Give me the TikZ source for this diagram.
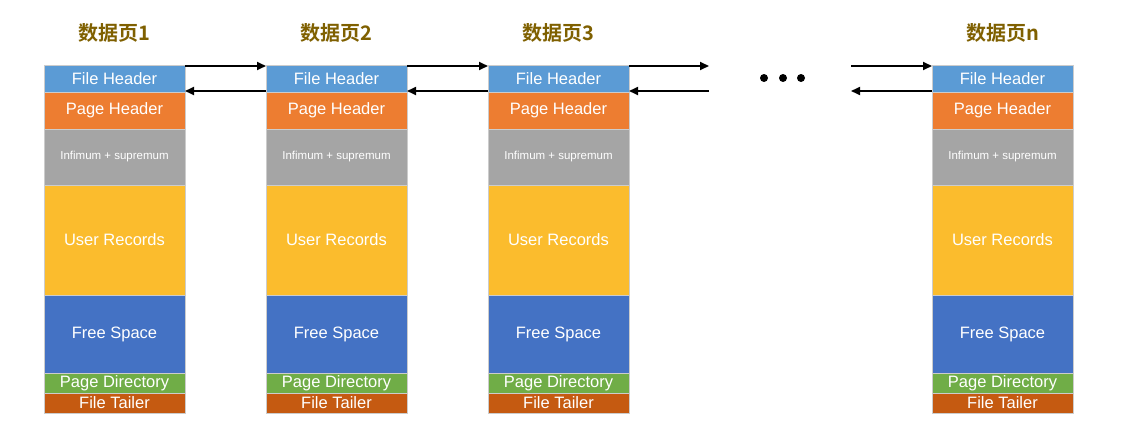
\documentclass[tikz,border=0pt]{standalone}
\usepackage{fontspec}
\setmainfont{Liberation Sans}
\newfontfamily\cjk{Noto Sans CJK SC}[BoldFont={Noto Sans CJK SC Bold}]
\usetikzlibrary{arrows.meta}

\definecolor{fhblue}{RGB}{91,155,213}
\definecolor{phorange}{RGB}{237,125,49}
\definecolor{isgrey}{RGB}{165,165,165}
\definecolor{uryellow}{RGB}{251,188,45}
\definecolor{fsblue}{RGB}{68,114,196}
\definecolor{pdgreen}{RGB}{112,173,71}
\definecolor{ftbrown}{RGB}{197,90,17}
\definecolor{titlegold}{RGB}{127,96,0}

\begin{document}
\begin{tikzpicture}[
  x=1pt, y=-1pt,
  cell/.style={draw=black!20, line width=0.4pt, text=white, anchor=north west,
               minimum width=141pt, inner sep=0pt, outer sep=0pt},
  title/.style={font=\cjk\bfseries\fontsize{20}{20}\selectfont, text=titlegold},
  link/.style={line width=1.7pt, -{Triangle[length=9pt,width=8pt]}}]

\useasboundingbox (0,0) rectangle (1124,447);

% ================= the pages ==============================================
\foreach \col/\x in {1/44, 2/266, 3/488, n/932} {
  \node[title] (t\col) at (\x+70.5,33) {数据页\col};
  % name/top/height/colour/text/font size
  \foreach \r/\top/\h/\c/\txt/\fs in {
      fh/65/27/fhblue/File Header/16.5,
      ph/92/37/phorange/Page Header/16.5,
      is/129/56/isgrey/Infimum + supremum/11.5,
      ur/185/110/uryellow/User Records/16.5,
      fs/295/78/fsblue/Free Space/16.5,
      pd/373/20/pdgreen/Page Directory/16.5,
      ft/393/20/ftbrown/File Tailer/16.5}
    {\node[cell, minimum height={\h pt}, fill=\c,
           font=\fontsize{\fs}{\fs}\selectfont] (\r\col) at (\x,\top) {\txt};}
}

% ================= links between pages ====================================
\foreach \a/\b in {1/2, 2/3} {
  \draw[link] ([yshift=-1pt]fh\a.north east) -- ([yshift=-1pt]fh\b.north west);
  \draw[link] ([yshift=1pt]fh\b.south west) -- ([yshift=1pt]fh\a.south east);
}

% the gap before page n
\coordinate (gapR) at (709,66);
\coordinate (gapL) at (709,91);
\coordinate (nR) at (851,66);
\coordinate (nL) at (851,91);
\draw[link] ([yshift=-1pt]fh3.north east) -- (gapR);
\draw[link] (gapL) -- ([yshift=1pt]fh3.south east);
\draw[link] (nR) -- ([yshift=-1pt]fhn.north west);
\draw[link] ([yshift=1pt]fhn.south west) -- (nL);

\foreach \x in {764, 783, 801}
  {\fill (\x,78) circle (4pt);}

\end{tikzpicture}
\end{document}
